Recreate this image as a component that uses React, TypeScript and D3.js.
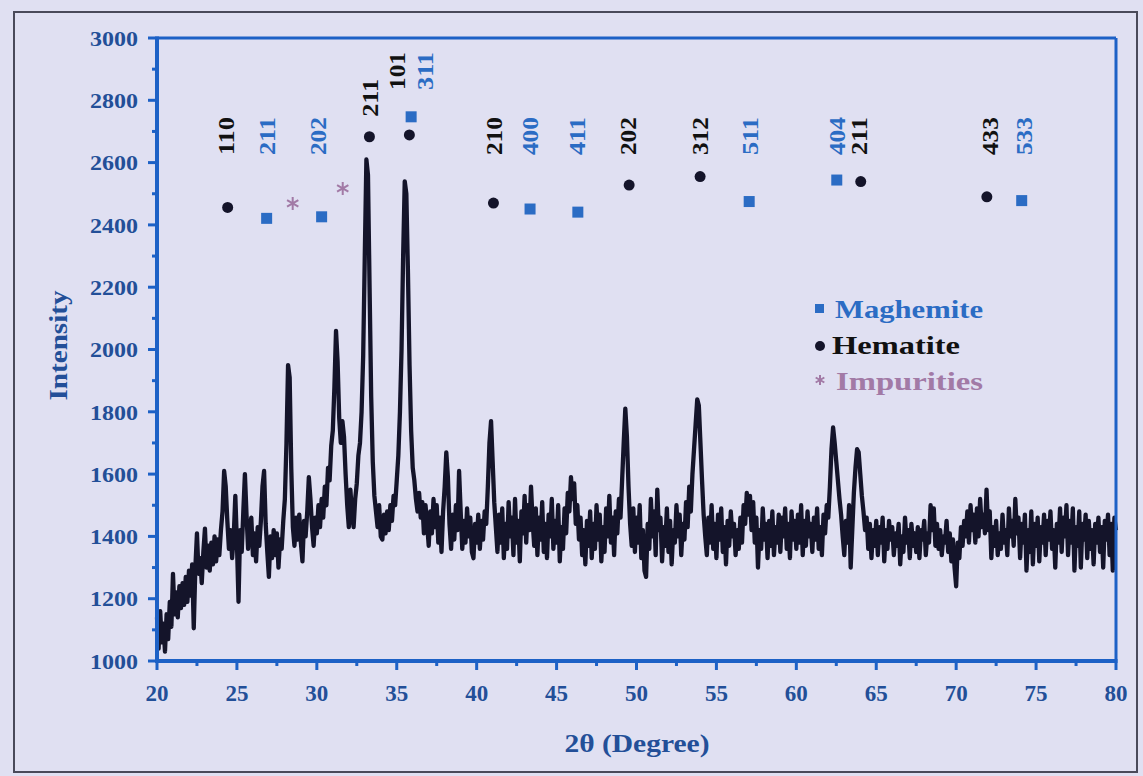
import React from "react";
import * as d3 from "d3";

// 2θ step of the digitised pattern
const step = 0.1;

// intensity, 0.1° apart, one array per 10°
const seg20 = [
  1140, 1040, 1160, 1060, 1120, 1030, 1150, 1070, 1190, 1110,
  1280, 1150, 1220, 1140, 1240, 1170, 1250, 1180, 1270, 1190,
  1290, 1210, 1310, 1105, 1300, 1410, 1280, 1330, 1250, 1350,
  1425, 1300, 1370, 1290, 1380, 1310, 1400, 1320, 1390, 1340,
  1420, 1480, 1610, 1560, 1450, 1360, 1420, 1330, 1400, 1530,
  1380, 1190, 1420, 1350, 1480, 1600, 1470, 1360, 1430, 1460,
  1340, 1410, 1320, 1430, 1370, 1450, 1560, 1610, 1440, 1350,
  1270, 1400, 1330, 1420, 1340, 1410, 1300, 1390, 1360, 1450,
  1520, 1700, 1950, 1910, 1620, 1430, 1370, 1460, 1390, 1470,
  1380, 1320, 1450, 1400, 1480, 1590, 1520, 1430, 1370, 1460,
];
const seg30 = [
  1410, 1500, 1430, 1520, 1460, 1560, 1500, 1620, 1580, 1690,
  1740, 1880, 2060, 1960, 1780, 1700, 1770, 1720, 1600, 1500,
  1430, 1550, 1470, 1430, 1520, 1570, 1660, 1700, 1800, 1980,
  2300, 2610, 2560, 2200, 1850, 1640, 1530, 1480, 1430, 1500,
  1400, 1390, 1470, 1410, 1480, 1420, 1500, 1450, 1530, 1500,
  1580, 1660, 1800, 2000, 2300, 2540, 2500, 2250, 1950, 1740,
  1620, 1580, 1520, 1480, 1540, 1460, 1510, 1410, 1500, 1440,
  1370, 1480, 1410, 1520, 1430, 1500, 1380, 1460, 1350, 1480,
  1560, 1670, 1590, 1440, 1360, 1470, 1390, 1500, 1420, 1610,
  1480, 1360, 1450, 1380, 1490, 1400, 1460, 1350, 1330, 1440,
];
const seg40 = [
  1380, 1470, 1360, 1450, 1390, 1480, 1440, 1560, 1700, 1770,
  1640, 1510, 1430, 1350, 1470, 1380, 1490, 1330, 1440, 1360,
  1510, 1400, 1460, 1340, 1520, 1380, 1450, 1320, 1480, 1410,
  1530, 1380, 1500, 1420, 1560, 1450, 1370, 1490, 1340, 1460,
  1390, 1510, 1350, 1440, 1330, 1470, 1400, 1520, 1360, 1450,
  1380, 1500, 1320, 1430, 1360, 1490, 1410, 1540, 1480, 1590,
  1520, 1570, 1440, 1500, 1390, 1460, 1340, 1420, 1310, 1450,
  1370, 1480, 1330, 1440, 1360, 1500, 1390, 1470, 1320, 1430,
  1350, 1490, 1400, 1530, 1380, 1460, 1340, 1480, 1410, 1520,
  1460, 1580, 1700, 1810, 1720, 1560, 1440, 1370, 1490, 1350,
];
const seg50 = [
  1460, 1380, 1500, 1330, 1420, 1290, 1270, 1440, 1360, 1520,
  1400, 1480, 1340, 1550, 1420, 1460, 1320, 1430, 1370, 1490,
  1350, 1450, 1310, 1420, 1380, 1500, 1400, 1470, 1340, 1440,
  1390, 1510, 1430, 1560, 1480, 1600, 1680, 1760, 1840, 1820,
  1700, 1580, 1470, 1400, 1340, 1460, 1380, 1500, 1360, 1440,
  1330, 1470, 1390, 1490, 1350, 1430, 1310, 1450, 1370, 1480,
  1400, 1440, 1340, 1420, 1360, 1460, 1380, 1500, 1440, 1540,
  1470, 1530, 1420, 1510, 1380, 1460, 1300, 1420, 1360, 1490,
  1390, 1440, 1330, 1450, 1370, 1480, 1340, 1430, 1380, 1470,
  1350, 1460, 1400, 1490, 1360, 1440, 1330, 1480, 1390, 1450,
];
const seg60 = [
  1360, 1470, 1380, 1500, 1340, 1450, 1370, 1480, 1400, 1440,
  1350, 1460, 1390, 1490, 1360, 1430, 1340, 1470, 1410, 1500,
  1460, 1560, 1680, 1750, 1700, 1640, 1580, 1520, 1470, 1400,
  1340, 1450, 1380, 1500, 1300, 1420, 1540, 1620, 1680, 1670,
  1600, 1530, 1480, 1420, 1460, 1360, 1440, 1330, 1420, 1370,
  1450, 1340, 1430, 1380, 1460, 1320, 1420, 1360, 1450, 1390,
  1430, 1340, 1410, 1370, 1440, 1310, 1400, 1350, 1460, 1380,
  1420, 1330, 1440, 1370, 1410, 1350, 1430, 1330, 1420, 1390,
  1450, 1340, 1410, 1380, 1500, 1420, 1490, 1370, 1440, 1360,
  1420, 1340, 1400, 1380, 1450, 1350, 1410, 1320, 1390, 1300,
];
const seg70 = [
  1240, 1380, 1330, 1430, 1370, 1450, 1400, 1480, 1380, 1500,
  1420, 1470, 1380, 1490, 1400, 1520, 1430, 1470, 1410, 1550,
  1420, 1480, 1330, 1430, 1370, 1450, 1340, 1410, 1360, 1470,
  1380, 1420, 1340, 1490, 1400, 1450, 1370, 1520, 1410, 1460,
  1330, 1440, 1380, 1470, 1290, 1420, 1350, 1480, 1310, 1440,
  1370, 1460, 1320, 1430, 1380, 1470, 1340, 1450, 1390, 1480,
  1360, 1420, 1300, 1440, 1380, 1490, 1350, 1460, 1400, 1500,
  1340, 1450, 1380, 1490, 1290, 1430, 1370, 1480, 1300, 1440,
  1390, 1470, 1330, 1450, 1360, 1420, 1310, 1440, 1380, 1460,
  1350, 1430, 1300, 1450, 1390, 1470, 1340, 1440, 1290, 1460,
  1420,
];
const segStarts = [20, 30, 40, 50, 60, 70];
const segments = [seg20, seg30, seg40, seg50, seg60, seg70];

// phase markers: [2θ, intensity]
const hematite = [
  [24.42, 2456], [33.29, 2683], [35.79, 2689], [41.05, 2470],
  [49.54, 2528], [53.98, 2555], [64.03, 2539], [71.92, 2490],
];
const maghemite = [
  [26.86, 2421], [30.3, 2426], [35.9, 2747], [43.34, 2451],
  [46.33, 2441], [57.05, 2475], [62.53, 2544], [74.1, 2478],
];
const impurities = [[28.49, 2469], [31.62, 2517]];

// hkl labels: [2θ, intensity at foot of text, text]
const hematiteHkl: [number, number, string][] = [
  [24.3, 2624, "110"], [33.33, 2747, "211"], [35.0, 2833, "101"],
  [41.05, 2624, "210"], [49.49, 2624, "202"], [53.98, 2624, "312"],
  [63.89, 2624, "211"], [72.13, 2624, "433"],
];
const maghemiteHkl: [number, number, string][] = [
  [26.86, 2624, "211"], [30.09, 2624, "202"], [36.77, 2833, "311"],
  [43.34, 2624, "400"], [46.26, 2624, "411"], [57.1, 2624, "511"],
  [62.53, 2624, "404"], [74.21, 2624, "533"],
];

const xTicks = [20, 25, 30, 35, 40, 45, 50, 55, 60, 65, 70, 75, 80];
const yTicks = [1000, 1200, 1400, 1600, 1800, 2000, 2200, 2400, 2600, 2800, 3000];

const W = 1143;
const H = 776;
const bg = "#e0e0f2";
const axisBlue = "#1d61c6";
const tickBlue = "#234f98";
const magBlue = "#2b6cc4";
const ink = "#14142a";
const mauve = "#a27aa6";
const serif = "'Liberation Serif', 'Times New Roman', serif";

export default function App() {
  const margin = { left: 157, right: 1116, top: 38, bottom: 661 };
  const x = d3.scaleLinear().domain([20, 80]).range([margin.left, margin.right]);
  const y = d3.scaleLinear().domain([1000, 3000]).range([margin.bottom, margin.top]);

  const points: [number, number][] = [];
  segments.forEach((seg, k) => {
    seg.forEach((v, i) => points.push([segStarts[k] + i * step, v]));
  });
  const line = d3.line<[number, number]>().x(d => x(d[0])).y(d => y(d[1]));

  const xMinor = d3.range(22.5, 80, 5);
  const yMinor = d3.range(1100, 3000, 200);

  const star = d3.symbol().type(d3.symbolAsterisk).size(120)();

  return (
    <div style={{ position: "absolute", left: 0, top: 0 }}>
      <svg width={W} height={H} style={{ display: "block" }}>
        <rect width={W} height={H} fill={bg} />
        <rect x={14} y={12} width={1123} height={760} fill="none" stroke="#4a4a5a" strokeWidth={2} />

        {/* trace */}
        <path d={line(points) || ""} fill="none" stroke={ink} strokeWidth={4.3} strokeLinejoin="round" />

        {/* frame */}
        <line x1={margin.left} x2={margin.right} y1={margin.top} y2={margin.top} stroke={axisBlue} strokeWidth={3} />
        <line x1={margin.right} x2={margin.right} y1={margin.top} y2={margin.bottom} stroke={axisBlue} strokeWidth={3} />
        <line x1={margin.left} x2={margin.left} y1={margin.top - 1.5} y2={margin.bottom + 2} stroke={axisBlue} strokeWidth={4} />
        <line x1={margin.left - 2} x2={margin.right + 1.5} y1={margin.bottom} y2={margin.bottom} stroke={axisBlue} strokeWidth={4} />

        {/* y axis */}
        {yTicks.map(t => (
          <g key={"y" + t}>
            <line x1={margin.left - 9} x2={margin.left} y1={y(t)} y2={y(t)} stroke={axisBlue} strokeWidth={3} />
            <text x={138} y={y(t)} dy="0.35em" textAnchor="end" fontFamily={serif} fontWeight="bold" fontSize={22} fill={tickBlue}
              textLength={48} lengthAdjust="spacingAndGlyphs">
              {t}
            </text>
          </g>
        ))}
        {yMinor.map(t => (
          <line key={"ym" + t} x1={margin.left - 5} x2={margin.left} y1={y(t)} y2={y(t)} stroke={axisBlue} strokeWidth={3} />
        ))}

        {/* x axis */}
        {xTicks.map(t => (
          <g key={"x" + t}>
            <line x1={x(t)} x2={x(t)} y1={margin.bottom} y2={margin.bottom + 9} stroke={axisBlue} strokeWidth={3} />
            <text x={x(t)} y={701} textAnchor="middle" fontFamily={serif} fontWeight="bold" fontSize={23} fill={tickBlue}>
              {t}
            </text>
          </g>
        ))}
        {xMinor.map(t => (
          <line key={"xm" + t} x1={x(t)} x2={x(t)} y1={margin.bottom} y2={margin.bottom + 5} stroke={axisBlue} strokeWidth={3} />
        ))}

        {/* axis titles */}
        <text transform={`translate(67,${(margin.top + margin.bottom) / 2 - 4}) rotate(-90)`} textAnchor="middle"
          fontFamily={serif} fontWeight="bold" fontSize={25} fill={tickBlue} textLength={110} lengthAdjust="spacingAndGlyphs">
          Intensity
        </text>
        <text x={637} y={752} textAnchor="middle" fontFamily={serif} fontWeight="bold" fontSize={25} fill={tickBlue}
          textLength={145} lengthAdjust="spacingAndGlyphs">
          2θ (Degree)
        </text>

        {/* markers */}
        {hematite.map(([a, b], i) => (
          <circle key={"h" + i} cx={x(a)} cy={y(b)} r={5.5} fill={ink} />
        ))}
        {maghemite.map(([a, b], i) => (
          <rect key={"m" + i} x={x(a) - 5.5} y={y(b) - 5.5} width={11} height={11} fill={magBlue} />
        ))}
        {impurities.map(([a, b], i) => (
          <path key={"i" + i} d={star || ""} transform={`translate(${x(a)},${y(b)})`} fill="none" stroke={mauve} strokeWidth={2} />
        ))}

        {/* hkl labels */}
        {hematiteHkl.map(([a, b, s], i) => (
          <text key={"hl" + i} transform={`translate(${x(a)},${y(b)}) rotate(-90)`} dy="0.35em"
            fontFamily={serif} fontWeight="bold" fontSize={23} fill="#111" textLength={38} lengthAdjust="spacingAndGlyphs">
            {s}
          </text>
        ))}
        {maghemiteHkl.map(([a, b, s], i) => (
          <text key={"ml" + i} transform={`translate(${x(a)},${y(b)}) rotate(-90)`} dy="0.35em"
            fontFamily={serif} fontWeight="bold" fontSize={23} fill={magBlue} textLength={38} lengthAdjust="spacingAndGlyphs">
            {s}
          </text>
        ))}

        {/* legend */}
        <rect x={815} y={304} width={9} height={9} fill={magBlue} />
        <text x={835} y={318} fontFamily={serif} fontWeight="bold" fontSize={25} fill={magBlue}
          textLength={148} lengthAdjust="spacingAndGlyphs">
          Maghemite
        </text>
        <circle cx={820} cy={346} r={5} fill={ink} />
        <text x={832} y={354} fontFamily={serif} fontWeight="bold" fontSize={25} fill="#111"
          textLength={128} lengthAdjust="spacingAndGlyphs">
          Hematite
        </text>
        <path d={d3.symbol().type(d3.symbolAsterisk).size(70)() || ""} transform="translate(820,380)" fill="none" stroke={mauve} strokeWidth={2} />
        <text x={836} y={390} fontFamily={serif} fontWeight="bold" fontSize={25} fill={mauve}
          textLength={147} lengthAdjust="spacingAndGlyphs">
          Impurities
        </text>
      </svg>
    </div>
  );
}
